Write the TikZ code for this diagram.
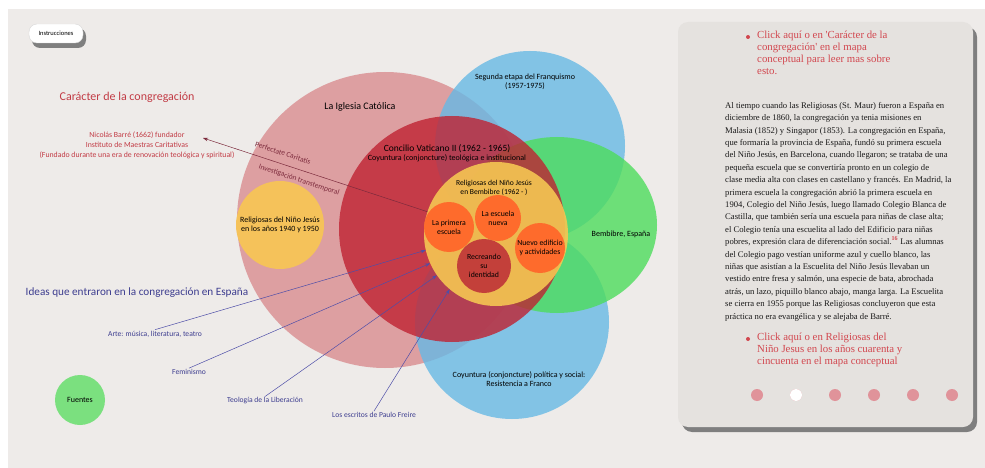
\documentclass[tikz,border=0pt]{standalone}
\usepackage{fontspec}
\setmainfont{Liberation Serif}
\newfontfamily\mapfont{Carlito}
\usetikzlibrary{arrows.meta,shapes.geometric}

\definecolor{canvasbg}{HTML}{EEEBE9}
\definecolor{panelbg}{HTML}{E5E2DF}
\definecolor{shadowgray}{HTML}{7F7F7F}
\definecolor{iglesia}{HTML}{D98D90}
\definecolor{franco}{HTML}{67B9E5}
\definecolor{bembibre}{HTML}{4DDC5C}
\definecolor{concilio}{HTML}{BF2232}
\definecolor{rnjyellow}{HTML}{F5C652}
\definecolor{escuela}{HTML}{FE6B2C}
\definecolor{identidad}{HTML}{C3403A}
\definecolor{anos}{HTML}{F5C25A}
\definecolor{fuentes}{HTML}{7BE07F}
\definecolor{caracter}{HTML}{C23B45}
\definecolor{ideas}{HTML}{3D3D8F}
\definecolor{idealine}{HTML}{4E4EA8}
\definecolor{barreline}{HTML}{7C2A3C}
\definecolor{linkred}{HTML}{D2474F}
\definecolor{dotpink}{HTML}{E0939A}

\tikzset{
  venn/.style={circle, inner sep=0pt, fill opacity=0.8},
  school/.style={circle, inner sep=0pt, fill=escuela, align=center,
    font=\mapfont\fontsize{7.8}{9.2}\selectfont, text=black},
  maplabel/.style={font=\mapfont\fontsize{8}{9.5}\selectfont, text=black,
    align=center, inner sep=1pt},
  idea/.style={font=\mapfont\fontsize{7.6}{9}\selectfont, text=ideas, inner sep=1pt},
  ideaarrow/.style={draw=idealine, line width=0.5pt, -{Stealth[length=5pt,width=3.5pt]}},
  barrearrow/.style={draw=barreline, line width=0.5pt, -{Stealth[length=5pt,width=3.5pt]}},
  navdot/.style={circle, inner sep=0pt, minimum size=12pt, fill=dotpink},
}

\begin{document}
\begin{tikzpicture}[x=1pt,y=-1pt]
  \useasboundingbox (0,0) rectangle (985,468);
  \fill[white] (0,0) rectangle (985,468);
  \fill[canvasbg] (8,9) rectangle (985,468);

  % mapa conceptual
  \node[venn, fill=iglesia, minimum size=296pt] (iglesia) at (385,220) {};
  \node[venn, fill=franco, minimum size=190pt] (segunda) at (530,146) {};
  \node[venn, fill=franco, minimum size=194pt] (resistencia) at (512,322) {};
  \node[venn, ellipse, fill=bembibre, minimum width=200pt, minimum height=176pt] (bembibre) at (557,225) {};
  \node[venn, fill=concilio, minimum size=226pt] (concilio) at (452,229) {};
  \node[venn, fill=rnjyellow, fill opacity=0.9, minimum size=144pt] (rnj) at (496,234) {};

  \node[school, minimum size=50pt] (primera) at (449,227) {La primera\\escuela};
  \node[school, minimum size=46pt] (nueva) at (498,218) {La escuela\\nueva};
  \node[school, minimum size=50pt] (edificio) at (540,248) {Nuevo edificio\\y actividades};
  \node[school, fill=identidad, minimum size=54pt] (recreando) at (484,266) {Recreando\\su\\identidad};

  \node[maplabel, font=\mapfont\fontsize{10}{12}\selectfont] (iglesiatxt) at (360,107) {La Iglesia Católica};
  \node[maplabel] (segundatxt) at (525,82) {Segunda etapa del Franquismo\\(1957-1975)};
  \node[maplabel] (conciliotxt) at (447,153) {{\fontsize{9.5}{11}\selectfont Concilio Vaticano II (1962 - 1965)}\\Coyuntura (conjoncture) teológica e institucional};
  \node[maplabel, font=\mapfont\fontsize{7.6}{9.5}\selectfont] (rnjtxt) at (494,188) {Religiosas del Niño Jesús\\en Bembibre (1962 - )};
  \node[maplabel] (bembibretxt) at (621,234) {Bembibre, España};
  \node[maplabel] (resistenciatxt) at (519,379) {Coyuntura (conjoncture) política y social:\\Resistencia a Franco};

  \node[circle, fill=anos, minimum size=88pt, maplabel] (anos) at (280,225) {Religiosas del Niño Jesús\\en los años 1940 y 1950};
  \node[circle, fill=fuentes, minimum size=50pt, maplabel] (fuentes) at (80,400) {Fuentes};

  \fill[shadowgray, rounded corners=8pt] (32,28) rectangle (86,48);
  \node[fill=white, draw=black!15, rounded corners=8pt, minimum width=54pt, minimum height=19pt,
    font=\mapfont\fontsize{6.5}{7}\selectfont] (instrucciones) at (56,33.5) {Instrucciones};

  % caracter de la congregacion
  \node[font=\mapfont\fontsize{12}{14}\selectfont, text=caracter] (caracter) at (127,97) {Carácter de la congregación};
  \node[font=\mapfont\fontsize{7.8}{10}\selectfont, text=caracter, align=center] (barre) at (137,145)
    {Nicolás Barré (1662) fundador\\Instituto de Maestras Caritativas\\(Fundado durante una era de renovación teológica y spiritual)};
  \coordinate (barretip) at (203,138);
  \draw[barrearrow] (rnj.162) -- (barretip);
  \node[rotate=-18.3, font=\mapfont\fontsize{7.5}{9}\selectfont, text=barreline] (perfectae) at (283,153) {Perfectate Caritatis};
  \node[rotate=-18.3, font=\mapfont\fontsize{7.5}{9}\selectfont, text=barreline] (transtemporal) at (299,180) {Investigación transtemporal};

  % ideas
  \node[font=\mapfont\fontsize{11.2}{14}\selectfont, text=ideas] (ideastxt) at (137,293) {Ideas que entraron en la congregación en España};
  \node[idea] (arte) at (155,334) {Arte: música, literatura, teatro};
  \node[idea] (feminismo) at (189,372) {Feminismo};
  \node[idea] (teologia) at (265,401) {Teología de la Liberación};
  \node[idea] (freire) at (374,415) {Los escritos de Paulo Freire};
  \draw[ideaarrow] (arte.north) -- (rnj.193);
  \draw[ideaarrow] (feminismo.north) -- (rnj.204);
  \draw[ideaarrow] (teologia.north) -- (rnj.215);
  \draw[ideaarrow] (freire.north) -- (rnj.230);

  % panel de texto
  \fill[shadowgray, rounded corners=10pt] (682,27) rectangle (977,432);
  \fill[panelbg, rounded corners=10pt] (678,22) rectangle (973,427);

  \node[circle, fill=linkred, minimum size=4pt, inner sep=0pt] (bullet1) at (748,37) {};
  \node[anchor=north west, align=left, inner sep=0pt, text=linkred,
    font=\fontsize{10.8}{12}\selectfont] (link1) at (757,31)
    {Click aquí o en \textquotesingle Carácter de la\\congregación\textquotesingle{} en el mapa\\conceptual para leer mas sobre\\esto.};

  \node[anchor=north west, align=left, inner sep=0pt, text=black!90,
    font=\fontsize{8.65}{12.4}\selectfont] (parrafo) at (725,102)
    {Al tiempo cuando las Religiosas (St. Maur) fueron a España en\\
     diciembre de 1860, la congregación ya tenia misiones en\\
     Malasia (1852) y Singapor (1853). La congregación en España,\\
     que formaría la provincia de España, fundó su primera escuela\\
     del Niño Jesús, en Barcelona, cuando llegaron; se trataba de una\\
     pequeña escuela que se convertiría pronto en un colegio de\\
     clase media alta con clases en castellano y francés. En Madrid, la\\
     primera escuela la congregación abrió la primera escuela en\\
     1904, Colegio del Niño Jesús, luego llamado Colegio Blanca de\\
     Castilla, que también sería una escuela para niñas de clase alta;\\
     el Colegio tenía una escuelita al lado del Edificio para niñas\\
     pobres, expresión clara de diferenciación social.\textcolor{linkred}{\textsuperscript{\textbf{16}}} Las alumnas\\
     del Colegio pago vestían uniforme azul y cuello blanco, las\\
     niñas que asistían a la Escuelita del Niño Jesús llevaban un\\
     vestido entre fresa y salmón, una especie de bata, abrochada\\
     atrás, un lazo, piquillo blanco abajo, manga larga. La Escuelita\\
     se cierra en 1955 porque las Religiosas concluyeron que esta\\
     práctica no era evangélica y se alejaba de Barré.};

  \node[circle, fill=linkred, minimum size=4pt, inner sep=0pt] (bullet2) at (748,339) {};
  \node[anchor=north west, align=left, inner sep=0pt, text=linkred,
    font=\fontsize{10.8}{12}\selectfont] (link2) at (757,333)
    {Click aquí o en Religiosas del\\Niño Jesus en los años cuarenta y\\cincuenta en el mapa conceptual};

  \foreach \n/\x in {1/757,2/796,3/835,4/874,5/913,6/952}
    \node[navdot] (nav\n) at (\x,395) {};
  \node[navdot, fill=white] at (nav2) {};
\end{tikzpicture}
\end{document}
